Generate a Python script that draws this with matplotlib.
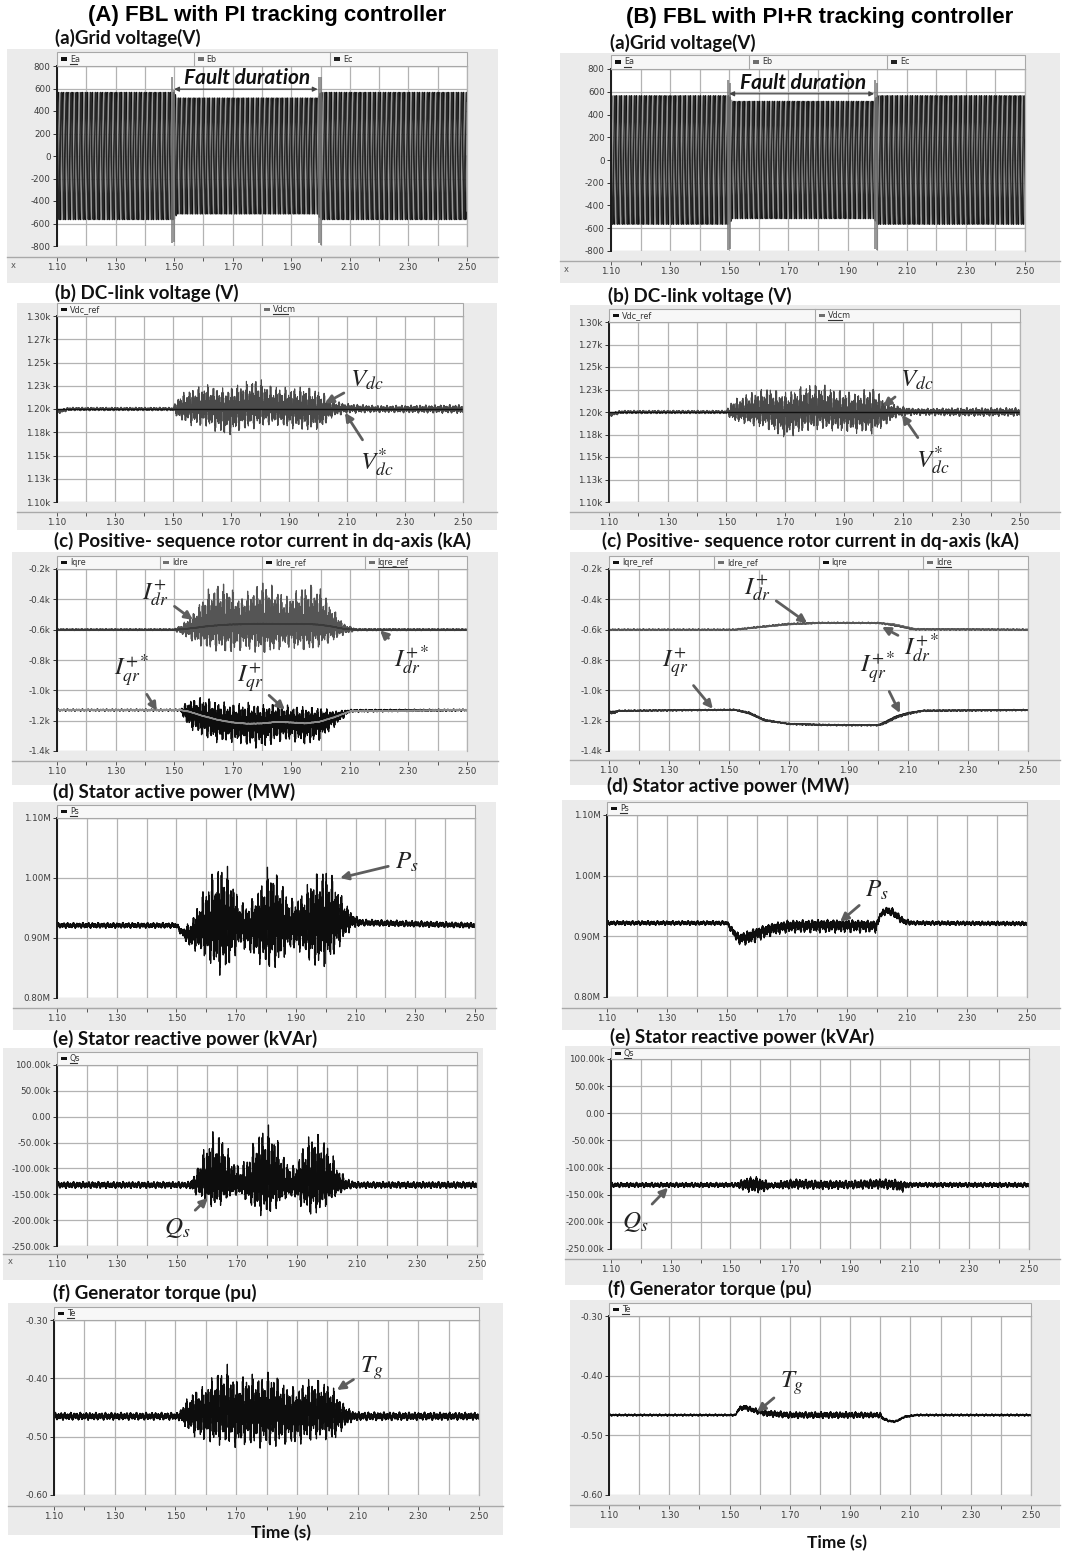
import numpy as np
import matplotlib
matplotlib.use("Agg")
import matplotlib.pyplot as plt
from matplotlib.lines import Line2D
from matplotlib.patches import Rectangle

plt.rcParams["mathtext.fontset"] = "stix"
plt.rcParams["font.family"] = ["DejaVu Sans"]

W, H = 1073, 1556
BG = "#ebebeb"
BAR = "#f7f7f7"
GRID = "#b3b3b3"
RULER = "#a9a9a9"
TXT = "#3c3c3c"
ARROW = "#5e5e5e"

# ---------------- data ----------------
X_TICKS = [1.10, 1.20, 1.30, 1.40, 1.50, 1.60, 1.70, 1.80, 1.90, 2.00,
           2.10, 2.20, 2.30, 2.40, 2.50]
X_TICK_LABELS = ["1.10", "", "1.30", "", "1.50", "", "1.70", "", "1.90", "",
                 "2.10", "", "2.30", "", "2.50"]

# ripple carrier shared by the traces (Hz, weight, phase)
RIPPLE_HZ = [60.0, 97.0, 523.0]
RIPPLE_WT = [0.22, 0.28, 0.50]
RIPPLE_PH = [0.0, 1.0, 2.0]

# (a) grid voltage: 60 Hz three-phase, peak envelope in V
GRID_HZ = 60.0
GRID_T = [1.10, 1.50, 1.51, 1.99, 2.00, 2.50]
GRID_AMP_PI = [565, 565, 515, 515, 565, 565]
GRID_AMP_PIR = [565, 565, 515, 515, 565, 565]
SPIKE_T_PI = [1.494, 1.501, 1.993, 2.001]
SPIKE_HI_PI = [705, 590, 705, 700]
SPIKE_LO_PI = [-770, -760, -775, -795]
SPIKE_T_PIR = [1.495, 1.501, 1.994, 2.001]
SPIKE_HI_PIR = [706, 677, 706, 677]
SPIKE_LO_PIR = [-794, -779, -779, -794]
GRID_TICKS = [-800, -600, -400, -200, 0, 200, 400, 600, 800]

# (b) DC-link voltage (V)
VDC_REF = 1200
VDC_T_PI = [1.10, 1.14, 1.50, 1.52, 1.56, 1.62, 1.68, 1.74, 1.79, 1.84, 1.90,
            1.96, 2.01, 2.05, 2.10, 2.20, 2.50]
VDC_MID_PI = [1197, 1200, 1200, 1200, 1202, 1201, 1199, 1200, 1202, 1200, 1200,
              1200, 1198, 1200, 1201, 1200, 1200]
VDC_UP_PI = [1199, 1202, 1202, 1215, 1222, 1227, 1222, 1229, 1234, 1226, 1223,
             1225, 1220, 1210, 1206, 1204, 1205]
VDC_LO_PI = [1194, 1198, 1198, 1188, 1182, 1180, 1170, 1177, 1179, 1183, 1179,
             1176, 1178, 1191, 1195, 1196, 1195]
VDC_T_PIR = [1.10, 1.14, 1.50, 1.52, 1.58, 1.64, 1.70, 1.77, 1.82, 1.88, 1.94,
             2.00, 2.04, 2.08, 2.14, 2.30, 2.50]
VDC_MID_PIR = [1197, 1200, 1200, 1200, 1201, 1202, 1198, 1201, 1203, 1200, 1200,
               1200, 1199, 1200, 1201, 1200, 1200]
VDC_UP_PIR = [1199, 1202, 1202, 1214, 1222, 1228, 1222, 1231, 1232, 1225, 1222,
              1228, 1215, 1208, 1204, 1205, 1205]
VDC_LO_PIR = [1194, 1198, 1198, 1190, 1185, 1180, 1170, 1178, 1180, 1178, 1176,
              1175, 1184, 1194, 1196, 1195, 1195]
VDC_TICKS = [1100, 1125, 1150, 1175, 1200, 1225, 1250, 1275, 1300]
VDC_LABELS = ["1.10k", "1.13k", "1.15k", "1.18k", "1.20k", "1.23k", "1.25k",
              "1.27k", "1.30k"]

# (c) rotor currents (A)
IDR_T_PI = [1.10, 1.50, 1.53, 1.57, 1.61, 1.65, 1.69, 1.72, 1.76, 1.80, 1.84,
            1.88, 1.92, 1.96, 2.00, 2.04, 2.08, 2.12, 2.50]
IDR_MID_PI = [-600, -600, -595, -585, -575, -570, -565, -565, -562, -560, -562,
              -565, -562, -562, -568, -580, -595, -600, -600]
IDR_UP_PI = [-594, -594, -560, -480, -340, -285, -300, -390, -330, -275, -300,
             -380, -330, -290, -320, -450, -560, -592, -594]
IDR_LO_PI = [-606, -606, -640, -690, -730, -745, -760, -740, -745, -765, -750,
             -720, -735, -745, -715, -680, -635, -608, -606]
IDR_REF_PI = [-600, -600, -597, -588, -578, -571, -566, -565, -562, -561, -562,
              -563, -562, -563, -568, -580, -595, -600, -600]
IQR_T_PI = [1.10, 1.52, 1.55, 1.60, 1.65, 1.70, 1.75, 1.80, 1.85, 1.90, 1.95,
            2.00, 2.05, 2.10, 2.50]
IQR_MID_PI = [-1130, -1130, -1150, -1180, -1200, -1215, -1220, -1215, -1205,
              -1215, -1218, -1205, -1170, -1135, -1130]
IQR_UP_PI = [-1123, -1123, -1060, -1040, -1070, -1085, -1075, -1095, -1080,
             -1100, -1105, -1110, -1135, -1125, -1123]
IQR_LO_PI = [-1137, -1137, -1250, -1310, -1350, -1345, -1370, -1390, -1345,
             -1335, -1365, -1330, -1240, -1145, -1137]
IQR_REF_PI = [-1130, -1130, -1140, -1170, -1195, -1212, -1220, -1218, -1208,
              -1212, -1218, -1205, -1175, -1138, -1130]
IDR_T_PIR = [1.10, 1.52, 1.60, 1.70, 1.80, 1.90, 2.00, 2.05, 2.12, 2.50]
IDR_PIR = [-600, -600, -582, -562, -555, -555, -556, -570, -598, -600]
IDR_REF_PIR = [-600, -600, -585, -566, -557, -556, -556, -563, -594, -600]
IQR_T_PIR = [1.10, 1.12, 1.13, 1.52, 1.57, 1.62, 1.70, 1.80, 1.90, 2.00, 2.02,
             2.06, 2.10, 2.15, 2.50]
IQR_PIR = [-1150, -1150, -1135, -1128, -1148, -1195, -1222, -1228, -1230, -1230,
           -1220, -1180, -1155, -1135, -1130]
IQR_REF_PIR = [-1140, -1140, -1135, -1128, -1155, -1200, -1220, -1226, -1228,
               -1228, -1210, -1170, -1148, -1133, -1130]
I_RIPPLE_PIR = 6
I_TICKS = [-1400, -1200, -1000, -800, -600, -400, -200]
I_LABELS = ["-1.4k", "-1.2k", "-1.0k", "-0.8k", "-0.6k", "-0.4k", "-0.2k"]

# (d) stator active power (MW)
PS_T_PI = [1.10, 1.50, 1.52, 1.55, 1.58, 1.62, 1.65, 1.68, 1.71, 1.74, 1.78,
           1.81, 1.84, 1.88, 1.92, 1.96, 2.00, 2.03, 2.06, 2.09, 2.12, 2.50]
PS_MID_PI = [0.921, 0.921, 0.91, 0.905, 0.915, 0.92, 0.92, 0.92, 0.92, 0.92, 0.92,
             0.92, 0.92, 0.92, 0.92, 0.92, 0.925, 0.93, 0.93, 0.93, 0.925, 0.921]
PS_UP_PI = [0.926, 0.926, 0.915, 0.93, 0.97, 1.01, 1.03, 1.015, 0.965, 0.955,
            0.99, 1.025, 1.01, 0.965, 0.975, 1.01, 1.02, 1.00, 0.965, 0.94, 0.932,
            0.926]
PS_LO_PI = [0.916, 0.916, 0.90, 0.88, 0.875, 0.85, 0.835, 0.85, 0.885, 0.875,
            0.855, 0.845, 0.85, 0.88, 0.875, 0.85, 0.85, 0.87, 0.895, 0.915, 0.92,
            0.916]
PS_T_PIR = [1.10, 1.50, 1.52, 1.54, 1.57, 1.60, 1.65, 1.70, 1.80, 1.90, 2.00,
            2.01, 2.03, 2.05, 2.07, 2.09, 2.12, 2.50]
PS_MID_PIR = [0.922, 0.922, 0.908, 0.898, 0.90, 0.907, 0.915, 0.918, 0.92, 0.92,
              0.92, 0.935, 0.942, 0.94, 0.932, 0.925, 0.922, 0.921]
PS_UP_PIR = [0.926, 0.926, 0.915, 0.905, 0.91, 0.915, 0.922, 0.927, 0.928, 0.928,
             0.926, 0.94, 0.95, 0.948, 0.94, 0.93, 0.926, 0.925]
PS_LO_PIR = [0.918, 0.918, 0.90, 0.885, 0.885, 0.89, 0.90, 0.905, 0.905, 0.905,
             0.905, 0.93, 0.935, 0.933, 0.925, 0.918, 0.918, 0.917]
PS_TICKS = [0.80, 0.90, 1.00, 1.10]
PS_LABELS = ["0.80M", "0.90M", "1.00M", "1.10M"]

# (e) stator reactive power (kVAr)
QS_T_PI = [1.10, 1.54, 1.56, 1.59, 1.62, 1.65, 1.68, 1.71, 1.74, 1.77, 1.80,
           1.83, 1.86, 1.89, 1.92, 1.95, 1.98, 2.01, 2.04, 2.07, 2.10, 2.50]
QS_MID_PI = [-132, -132, -130, -125, -125, -128, -132, -135, -130, -125, -125,
             -128, -133, -135, -130, -125, -126, -130, -134, -133, -132, -132]
QS_UP_PI = [-125, -125, -110, -60, -25, -30, -75, -95, -70, -25, -12, -30, -80,
            -95, -55, -25, -30, -60, -100, -120, -125, -125]
QS_LO_PI = [-139, -139, -150, -165, -180, -170, -155, -150, -170, -190, -195,
            -180, -160, -155, -180, -195, -185, -165, -150, -140, -139, -139]
QS_T_PIR = [1.10, 1.52, 1.55, 1.58, 1.61, 1.64, 1.68, 1.72, 1.80, 1.90, 2.00,
            2.05, 2.07, 2.10, 2.50]
QS_MID_PIR = [-132, -132, -130, -130, -133, -133, -132, -130, -131, -131, -130,
              -130, -132, -131, -132]
QS_UP_PIR = [-127, -127, -118, -115, -120, -128, -122, -120, -123, -123, -120,
             -121, -124, -127, -127]
QS_LO_PIR = [-137, -137, -145, -148, -146, -138, -140, -140, -141, -140, -140,
             -142, -148, -137, -137]
QS_TICKS = [-250, -200, -150, -100, -50, 0, 50, 100]
QS_LABELS = ["-250.00k", "-200.00k", "-150.00k", "-100.00k", "-50.00k", "0.00",
             "50.00k", "100.00k"]

# (f) generator torque (pu)
TE_T_PI = [1.10, 1.51, 1.53, 1.56, 1.60, 1.63, 1.67, 1.70, 1.74, 1.78, 1.82,
           1.86, 1.90, 1.94, 1.98, 2.02, 2.05, 2.08, 2.10, 2.50]
TE_MID_PI = [-0.465, -0.465, -0.462, -0.46, -0.46, -0.458, -0.458, -0.46, -0.458,
             -0.458, -0.458, -0.46, -0.462, -0.458, -0.458, -0.46, -0.462, -0.464,
             -0.465, -0.465]
TE_UP_PI = [-0.458, -0.458, -0.44, -0.42, -0.41, -0.39, -0.375, -0.40, -0.39,
            -0.395, -0.385, -0.41, -0.415, -0.40, -0.40, -0.415, -0.44, -0.455,
            -0.457, -0.458]
TE_LO_PI = [-0.472, -0.472, -0.485, -0.50, -0.51, -0.515, -0.515, -0.52, -0.515,
            -0.52, -0.52, -0.515, -0.515, -0.51, -0.505, -0.51, -0.49, -0.476,
            -0.473, -0.472]
TE_T_PIR = [1.10, 1.52, 1.53, 1.55, 1.58, 1.62, 1.70, 1.80, 1.90, 2.00, 2.01,
            2.03, 2.05, 2.07, 2.08, 2.12, 2.50]
TE_MID_PIR = [-0.466, -0.466, -0.456, -0.453, -0.458, -0.463, -0.466, -0.466,
              -0.466, -0.466, -0.472, -0.476, -0.477, -0.472, -0.469, -0.466,
              -0.466]
TE_RIP_PIR = [0.0018, 0.0018, 0.004, 0.005, 0.005, 0.006, 0.006, 0.006, 0.006,
              0.005, 0.003, 0.002, 0.002, 0.002, 0.0018, 0.0018, 0.0018]
TE_TICKS = [-0.60, -0.50, -0.40, -0.30]
TE_LABELS = ["-0.60", "-0.50", "-0.40", "-0.30"]

t = np.linspace(1.10, 2.50, 40001)


def carrier(shift=0.0):
    return sum(w * np.sin(2 * np.pi * f * t + p + shift)
               for f, w, p in zip(RIPPLE_HZ, RIPPLE_WT, RIPPLE_PH))


def trace(knots, mid, up, lo, shift=0.0):
    m = np.interp(t, knots, mid)
    u = np.interp(t, knots, up)
    lw_ = np.interp(t, knots, lo)
    c = carrier(shift)
    return np.where(c >= 0, m + c * (u - m), m + c * (m - lw_))


def smooth(knots, vals, rip, shift=0.0):
    v = np.asarray(vals, float)
    r = np.asarray(rip, float) if np.ndim(rip) else rip
    return trace(knots, v, v + r, v - r, shift)


fig = plt.figure(figsize=(W / 100, H / 100), dpi=100)


def fx(x):
    return x / W


def fy(y):
    return 1 - y / H


def add_rect(x0, y0, x1, y1, **kw):
    fig.add_artist(Rectangle((fx(x0), fy(y1)), (x1 - x0) / W, (y1 - y0) / H,
                             transform=fig.transFigure, **kw))


def add_line(xs, ys, **kw):
    fig.add_artist(Line2D([fx(x) for x in xs], [fy(y) for y in ys],
                          transform=fig.transFigure, **kw))


def panel(plot, bg, ruler, yticks, ylabels, names, mcolors, uline, bar_h=13):
    x0, y0, x1, y1 = plot
    add_rect(*bg, facecolor=BG, edgecolor="none", zorder=-1)
    ax = fig.add_axes([fx(x0), fy(y1), (x1 - x0) / W, (y1 - y0) / H])
    ax.set_facecolor("white")
    ax.set_xlim(1.10, 2.50)
    ax.set_ylim(yticks[0], yticks[-1])
    ax.set_xticks(X_TICKS)
    ax.set_xticklabels(X_TICK_LABELS)
    ax.set_yticks(yticks)
    ax.set_yticklabels(ylabels)
    ax.grid(True, color=GRID, lw=0.9)
    ax.set_axisbelow(True)
    for s in ("top", "right"):
        ax.spines[s].set_color(GRID)
        ax.spines[s].set_linewidth(0.9)
    ax.spines["left"].set_color("#1a1a1a")
    ax.spines["left"].set_linewidth(1.4)
    ax.spines["bottom"].set_position(("outward", (ruler - y1) * 0.72))
    ax.spines["bottom"].set_color(RULER)
    ax.tick_params(axis="x", length=3, width=0.7, color="#555555",
                   labelsize=6.3, labelcolor=TXT, pad=1.5)
    ax.tick_params(axis="y", length=3, width=0.7, color="#333333",
                   labelsize=6.3, labelcolor=TXT, pad=1.5)
    add_line([bg[0], bg[2]], [ruler, ruler], color=RULER, lw=1)
    # legend strip on top of the plot
    top = y0
    add_rect(x0, top - bar_h, x1, top, facecolor=BAR, edgecolor="#a8a8a8",
             lw=0.8, zorder=1)
    seg = (x1 - x0) / len(names)
    ym = top - bar_h / 2
    for i, (nm, c) in enumerate(zip(names, mcolors)):
        sx = x0 + i * seg
        if i:
            add_line([sx, sx], [top - bar_h, top], color="#a8a8a8", lw=0.8)
        add_rect(sx + 4, ym - 1.5, sx + 10, ym + 1.5, facecolor=c,
                 edgecolor="none", zorder=2)
        fig.text(fx(sx + 13), fy(ym), nm, fontsize=5.8, color="#333333",
                 va="center", ha="left")
        if i == uline:
            add_line([sx + 13, sx + 13 + 3.7 * len(nm)], [ym + 4.7, ym + 4.7],
                     color="#333333", lw=0.8)
    return ax


def note(ax, label, tip, txt, size=18):
    ax.annotate(label, xy=tip, xytext=txt, fontsize=size, color="#222222",
                ha="center", va="center", annotation_clip=False,
                arrowprops=dict(arrowstyle="-|>", color=ARROW, lw=2.0,
                                mutation_scale=12, shrinkA=3, shrinkB=0))


def subtitle(x, y, s, ha="left"):
    fig.text(fx(x), fy(y), s, fontsize=13.5, fontweight="bold", family="Lato",
             ha=ha, va="center", color="#111111")


# ---------------- titles ----------------
fig.text(fx(267), fy(16), "(A) FBL with PI tracking controller", ha="center",
         va="center", fontsize=16, fontweight="bold", family="Liberation Sans")
fig.text(fx(820), fy(18), "(B) FBL with PI+R tracking controller", ha="center",
         va="center", fontsize=16, fontweight="bold", family="Liberation Sans")

GEOM = {
    "PI": dict(
        a=((57, 66, 467, 246), (7, 49, 498, 283), 257, (55, 38)),
        b=((57, 316, 463, 502), (17, 303, 497, 530), 512, (55, 293)),
        c=((57, 569, 467, 751), (12, 552, 498, 785), 761, (263, 541)),
        d=((57, 818, 475, 998), (13, 802, 496, 1030), 1008, (53, 792)),
        e=((57, 1065, 477, 1246), (3, 1048, 483, 1280), 1254, (53, 1039)),
        f=((54, 1320, 479, 1495), (8, 1303, 503, 1535), 1506, (53, 1293)),
        time=(281, 1533)),
    "PIR": dict(
        a=((611, 69, 1025, 251), (560, 53, 1060, 283), 261, (610, 43)),
        b=((609, 322, 1020, 502), (570, 305, 1060, 530), 512, (608, 296)),
        c=((609, 569, 1028, 751), (570, 552, 1060, 785), 760, (810, 541)),
        d=((607, 815, 1027, 997), (562, 800, 1060, 1030), 1008, (607, 786)),
        e=((611, 1059, 1029, 1249), (565, 1046, 1060, 1285), 1259, (610, 1037)),
        f=((609, 1316, 1031, 1495), (570, 1300, 1060, 1528), 1505, (608, 1289)),
        time=(837, 1543)),
}

DARK = "#111111"
MID = "#6e6e6e"

for key in ("PI", "PIR"):
    g = GEOM[key]
    pir = key == "PIR"
    sh = 0.7 if pir else 0.0

    # (a) grid voltage
    plot, bg, ruler, sub = g["a"]
    ax = panel(plot, bg, ruler, GRID_TICKS, [str(v) for v in GRID_TICKS],
               ["Ea", "Eb", "Ec"], [DARK, MID, "#222222"], 0, bar_h=14)
    subtitle(*sub, "(a)Grid voltage(V)")
    amp = np.interp(t, GRID_T, GRID_AMP_PIR if pir else GRID_AMP_PI)
    w = 2 * np.pi * GRID_HZ * t + sh
    ax.plot(t, amp * np.sin(w), color="#111111", lw=1.0)
    ax.plot(t, amp * np.sin(w - 2 * np.pi / 3), color="#9a9a9a", lw=0.9)
    ax.plot(t, amp * np.sin(w + 2 * np.pi / 3), color="#262626", lw=1.0)
    ax.vlines(SPIKE_T_PIR if pir else SPIKE_T_PI,
              SPIKE_LO_PIR if pir else SPIKE_LO_PI,
              SPIKE_HI_PIR if pir else SPIKE_HI_PI, color="#7a7a7a", lw=1.1)
    ya = 582 if pir else 594
    ax.annotate("", xy=(1.50, ya), xytext=(1.99, ya),
                arrowprops=dict(arrowstyle="<|-|>", color="#444444", lw=0.9,
                                mutation_scale=7, shrinkA=0, shrinkB=0))
    ax.text(1.75, 680 if pir else 690, "Fault duration", ha="center",
            va="center", fontsize=15, fontweight="bold", style="italic",
            family="Lato", color="#111111")
    fig.text(fx(bg[0] + 4), fy(ruler + 9), "x", fontsize=6, color="#555555",
             ha="left", va="center")

    # (b) DC-link voltage
    plot, bg, ruler, sub = g["b"]
    ax = panel(plot, bg, ruler, VDC_TICKS, VDC_LABELS, ["Vdc_ref", "Vdcm"],
               [DARK, MID], 1)
    subtitle(*sub, "(b) DC-link voltage (V)")
    if pir:
        vdc = trace(VDC_T_PIR, VDC_MID_PIR, VDC_UP_PIR, VDC_LO_PIR, sh)
    else:
        vdc = trace(VDC_T_PI, VDC_MID_PI, VDC_UP_PI, VDC_LO_PI, sh)
    ax.plot(t, vdc, color="#4a4a4a", lw=0.8)
    ax.plot([1.10, 2.50], [VDC_REF, VDC_REF], color="#111111", lw=1.0)
    if pir:
        note(ax, r"$V_{dc}$", (2.033, 1206), (2.149, 1236))
        note(ax, r"$V_{dc}^{*}$", (2.098, 1197), (2.204, 1147))
    else:
        note(ax, r"$V_{dc}$", (2.024, 1206), (2.169, 1231))
        note(ax, r"$V_{dc}^{*}$", (2.093, 1196), (2.203, 1143))

    # (c) rotor currents
    plot, bg, ruler, sub = g["c"]
    if pir:
        ax = panel(plot, bg, ruler, I_TICKS, I_LABELS,
                   ["Iqre_ref", "Idre_ref", "Iqre", "Idre"],
                   [DARK, MID, DARK, MID], 3)
        ax.plot(t, smooth(IQR_T_PIR, IQR_REF_PIR, 2, sh + 0.4), color="#222222",
                lw=1.0)
        ax.plot(t, smooth(IDR_T_PIR, IDR_REF_PIR, 2, sh + 0.4), color="#777777",
                lw=1.0)
        ax.plot(t, smooth(IQR_T_PIR, IQR_PIR, I_RIPPLE_PIR, sh), color="#333333",
                lw=0.8)
        ax.plot(t, smooth(IDR_T_PIR, IDR_PIR, I_RIPPLE_PIR, sh + 1.3),
                color="#555555", lw=0.8)
        note(ax, r"$I_{dr}^{+}$", (1.762, -556), (1.594, -319))
        note(ax, r"$I_{dr}^{+*}$", (2.012, -582), (2.146, -721))
        note(ax, r"$I_{qr}^{+}$", (1.447, -1122), (1.32, -820))
        note(ax, r"$I_{qr}^{+*}$", (2.072, -1150), (1.996, -846))
    else:
        ax = panel(plot, bg, ruler, I_TICKS, I_LABELS,
                   ["Iqre", "Idre", "Idre_ref", "Iqre_ref"],
                   [DARK, MID, DARK, MID], 3)
        ax.plot(t, trace(IQR_T_PI, IQR_MID_PI, IQR_UP_PI, IQR_LO_PI, sh),
                color="#0d0d0d", lw=0.9)
        ax.plot(t, trace(IDR_T_PI, IDR_MID_PI, IDR_UP_PI, IDR_LO_PI, sh + 1.3),
                color="#555555", lw=0.9)
        ax.plot(t, smooth(IDR_T_PI, IDR_REF_PI, 2, sh + 0.4), color="#3a3a3a",
                lw=1.1)
        ax.plot(t, smooth(IQR_T_PI, IQR_REF_PI, 2, sh + 0.4), color="#8c8c8c",
                lw=1.1)
        note(ax, r"$I_{dr}^{+}$", (1.564, -536), (1.435, -352))
        note(ax, r"$I_{dr}^{+*}$", (2.203, -605), (2.312, -800))
        note(ax, r"$I_{qr}^{+*}$", (1.441, -1135), (1.356, -866))
        note(ax, r"$I_{qr}^{+}$", (1.878, -1128), (1.759, -918))
    subtitle(*sub, "(c) Positive- sequence rotor current in dq-axis (kA)",
             ha="center")

    # (d) stator active power
    plot, bg, ruler, sub = g["d"]
    ax = panel(plot, bg, ruler, PS_TICKS, PS_LABELS, ["Ps"], [DARK], 0)
    subtitle(*sub, "(d) Stator active power (MW)")
    if pir:
        ps = trace(PS_T_PIR, PS_MID_PIR, PS_UP_PIR, PS_LO_PIR, sh)
    else:
        ps = trace(PS_T_PI, PS_MID_PI, PS_UP_PI, PS_LO_PI, sh)
    ax.plot(t, ps, color="#0d0d0d", lw=0.9)
    if pir:
        note(ax, r"$P_{s}$", (1.877, 0.924), (2.0, 0.976))
    else:
        note(ax, r"$P_{s}$", (2.048, 1.0), (2.272, 1.027))

    # (e) stator reactive power
    plot, bg, ruler, sub = g["e"]
    ax = panel(plot, bg, ruler, QS_TICKS, QS_LABELS, ["Qs"], [DARK], 0,
               bar_h=11 if pir else 13)
    subtitle(*sub, "(e) Stator reactive power (kVAr)")
    if pir:
        qs = trace(QS_T_PIR, QS_MID_PIR, QS_UP_PIR, QS_LO_PIR, sh)
    else:
        qs = trace(QS_T_PI, QS_MID_PI, QS_UP_PI, QS_LO_PI, sh)
        fig.text(fx(bg[0] + 5), fy(ruler + 7), "x", fontsize=6, color="#555555",
                 ha="left", va="center")
    ax.plot(t, qs, color="#0d0d0d", lw=0.9)
    if pir:
        note(ax, r"$Q_{s}$", (1.291, -137), (1.18, -200))
    else:
        note(ax, r"$Q_{s}$", (1.603, -157), (1.50, -215))

    # (f) generator torque
    plot, bg, ruler, sub = g["f"]
    ax = panel(plot, bg, ruler, TE_TICKS, TE_LABELS, ["Te"], [DARK], 0)
    subtitle(*sub, "(f) Generator torque (pu)")
    if pir:
        te = smooth(TE_T_PIR, TE_MID_PIR, TE_RIP_PIR, sh)
    else:
        te = trace(TE_T_PI, TE_MID_PI, TE_UP_PI, TE_LO_PI, sh)
    ax.plot(t, te, color="#0d0d0d", lw=0.9)
    if pir:
        note(ax, r"$T_{g}$", (1.591, -0.461), (1.707, -0.412))
    else:
        note(ax, r"$T_{g}$", (2.032, -0.42), (2.147, -0.382))
    tx, ty = g["time"]
    fig.text(fx(tx), fy(ty), "Time (s)", fontsize=12.5, fontweight="bold",
             family="Lato", ha="center", va="center", color="#111111")

fig.savefig("out.png", dpi=100, facecolor="white")
